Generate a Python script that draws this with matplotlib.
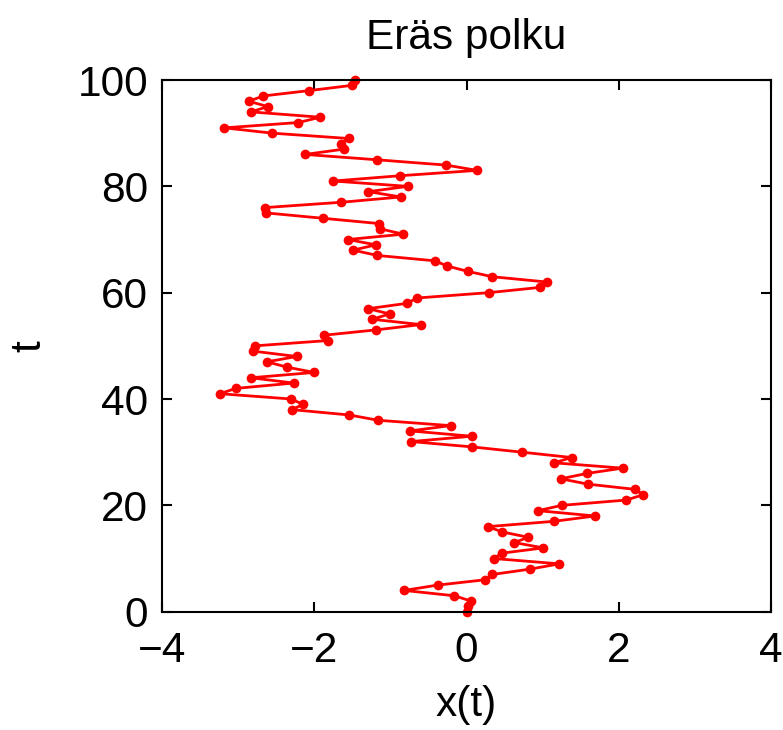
import matplotlib
matplotlib.use("Agg")
import matplotlib.pyplot as plt
import numpy as np

t_values = list(range(0, 101))
x_values = [
    0.00, 0.02, 0.06, -0.16, -0.82, -0.38, 0.24, 0.34, 0.83, 1.22,
    0.36, 0.46, 1.01, 0.63, 0.81, 0.47, 0.28, 1.15, 1.69, 0.94,
    1.25, 2.10, 2.32, 2.22, 1.59, 1.24, 1.58, 2.05, 1.15, 1.38,
    0.73, 0.07, -0.73, 0.07, -0.74, -0.21, -1.16, -1.54, -2.29, -2.15,
    -2.30, -3.24, -3.03, -2.27, -2.83, -2.00, -2.36, -2.62, -2.23, -2.80,
    -2.78, -1.82, -1.87, -1.19, -0.60, -1.24, -1.01, -1.29, -0.78, -0.65,
    0.29, 0.97, 1.06, 0.34, 0.02, -0.25, -0.42, -1.17, -1.49, -1.19,
    -1.56, -0.83, -1.13, -1.15, -1.89, -2.63, -2.65, -1.65, -0.86, -1.29,
    -0.77, -1.75, -0.87, 0.14, -0.27, -1.18, -2.12, -1.61, -1.65, -1.55,
    -2.55, -3.18, -2.21, -1.92, -2.83, -2.61, -2.86, -2.67, -2.07, -1.50,
    -1.47,
]
x_ticks = [-4, -2, 0, 2, 4]
y_ticks = [0, 20, 40, 60, 80, 100]

plt.rcParams['font.family'] = ['Liberation Sans', 'DejaVu Sans']
fs = 30.5

fig = plt.figure(figsize=(7.83, 7.30), dpi=100)
ax = fig.add_axes([162/783, 1 - 611.7/730, (771 - 162)/783, (611.7 - 80)/730])
ax.plot(x_values, t_values, color='red', linewidth=2.0, marker='o',
        markersize=7, markeredgewidth=0, clip_on=False, zorder=3)
ax.set_xlim(-4, 4)
ax.set_ylim(0, 100)
ax.set_xticks(x_ticks)
ax.set_yticks(y_ticks)
ax.set_xticklabels([f"{v:d}".replace('-', '\u2212') for v in x_ticks])
ax.tick_params(axis='both', direction='in', length=7, width=1.5,
               labelsize=fs, top=True, right=True, color='black')
ax.tick_params(axis='x', pad=14)
ax.tick_params(axis='y', pad=10)
for s in ax.spines.values():
    s.set_linewidth(1.5)
    s.set_zorder(4)
ax.set_title('Eräs polku', fontsize=fs, pad=22)
ax.set_xlabel('x(t)', fontsize=fs, labelpad=10)
ax.set_ylabel('t', fontsize=fs, labelpad=20)

fig.savefig('out.png', dpi=100)
